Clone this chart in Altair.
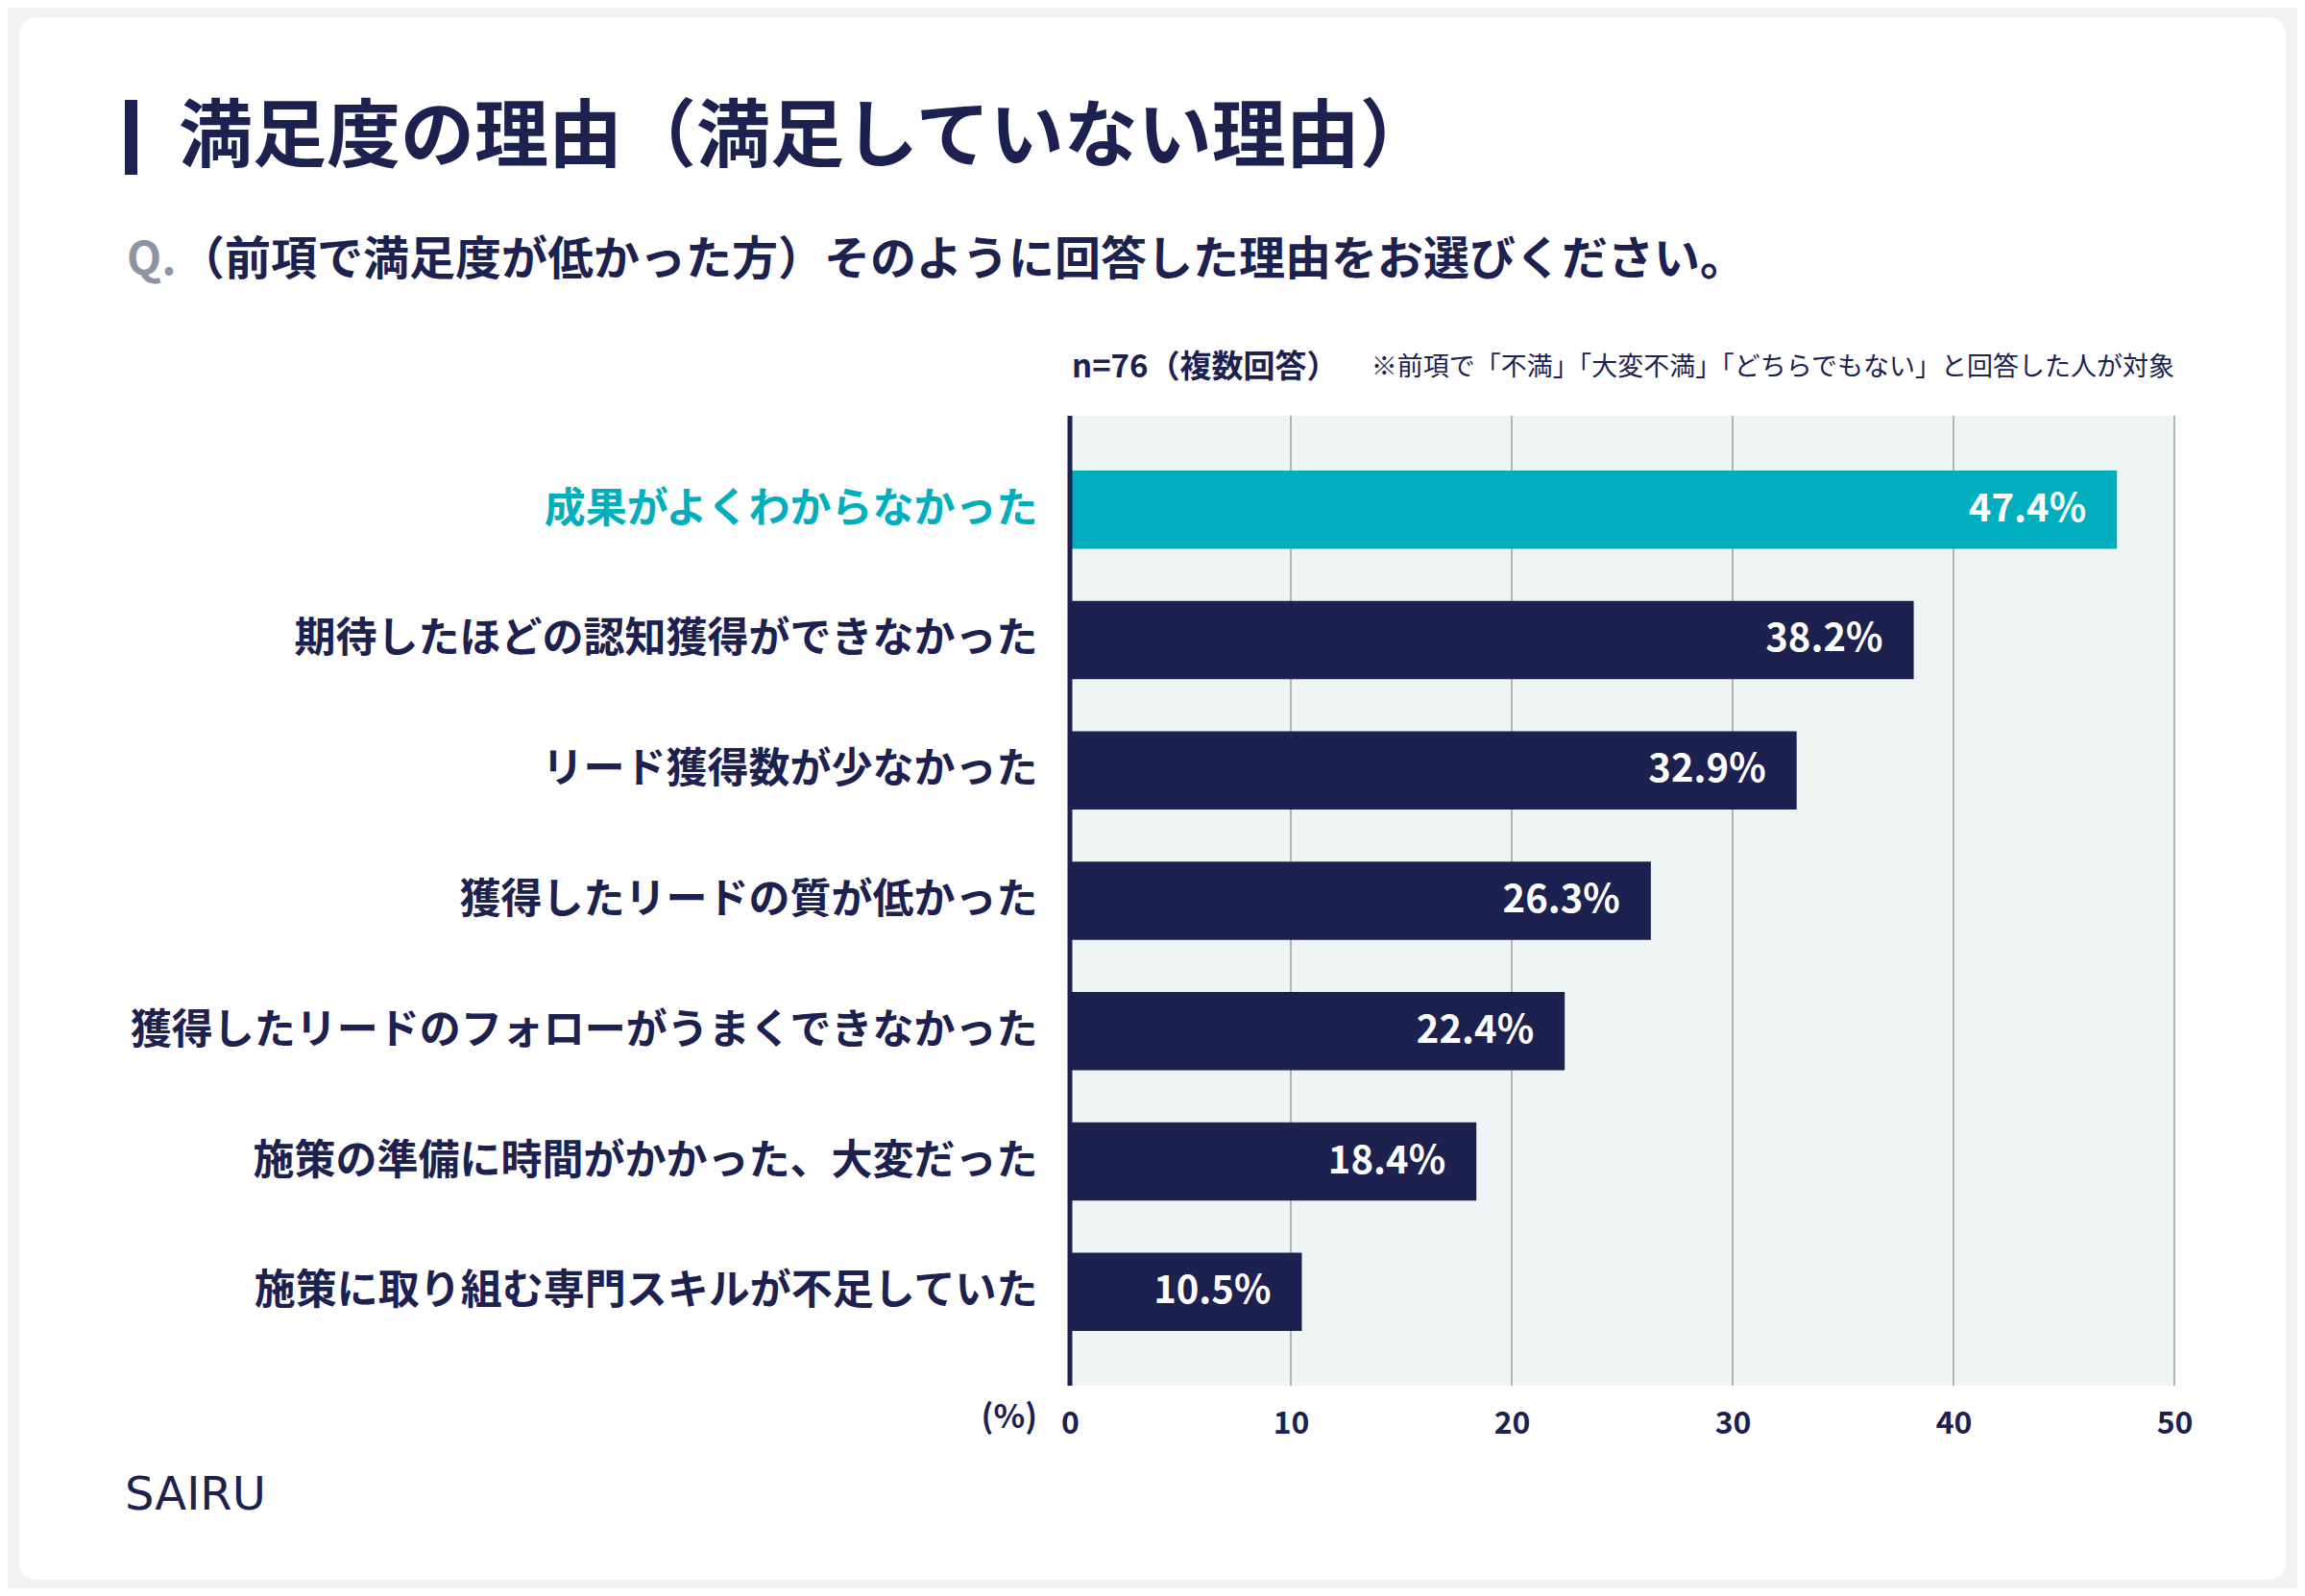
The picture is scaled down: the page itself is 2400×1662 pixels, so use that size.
import altair as alt
import pandas as pd

# ---- data ----
categories = [
    "成果がよくわからなかった",
    "期待したほどの認知獲得ができなかった",
    "リード獲得数が少なかった",
    "獲得したリードの質が低かった",
    "獲得したリードのフォローがうまくできなかった",
    "施策の準備に時間がかかった、大変だった",
    "施策に取り組む専門スキルが不足していた",
]
values = [47.4, 38.2, 32.9, 26.3, 22.4, 18.4, 10.5]
tick_values = [0, 10, 20, 30, 40, 50]
grid_values = [10, 20, 30, 40, 50]

title_text = "満足度の理由（満足していない理由）"
q_text = "Q."
subtitle_text = "（前項で満足度が低かった方）そのように回答した理由をお選びください。"
n_text = "n=76（複数回答）"
note_text = "※前項で「不満」「大変不満」「どちらでもない」と回答した人が対象"
unit_text = "(%)"
logo_text = "SAIRU"

NAVY = "#1c2150"
TEAL = "#00aebd"
GRAY_Q = "#8e93a6"
PLOT_BG = "#eff5f5"
GRID = "#b3b3b3"
FONT = "Noto Sans CJK JP"

W, H = 1150, 1010

df = pd.DataFrame({
    "cat": categories,
    "value": values,
    "label": [f"{v:.1f}%" for v in values],
})
grid_df = pd.DataFrame({"value": grid_values})
zero_df = pd.DataFrame({"value": [0]})
one = alt.Data(values=[{}])

xscale = alt.Scale(domain=[0, 50], nice=False, zero=True)
xaxis = alt.Axis(
    values=tick_values, grid=False, domain=False, ticks=False, title=None,
    labelFont=FONT, labelFontSize=32, labelFontWeight="bold", labelColor=NAVY,
    labelPadding=24, labelFlush=False, zindex=2,
)
yscale = alt.Scale(domain=categories, paddingInner=0.4, paddingOuter=0.42)
yaxis = alt.Axis(
    title=None, domain=False, ticks=False, labelFont=FONT, labelFontSize=43,
    labelFontWeight="bold", labelPadding=34, labelLimit=2000, zindex=2,
    labelColor={"condition": {"test": f"datum.value == '{categories[0]}'", "value": TEAL}, "value": NAVY},
)

X = alt.X("value:Q", scale=xscale, axis=xaxis)
Y = alt.Y("cat:N", scale=yscale, axis=yaxis, sort=categories)

card = alt.Chart(one).mark_rect(fill="white", cornerRadius=18).encode(
    x=alt.value(20 - 1114), x2=alt.value(2380 - 1114),
    y=alt.value(18 - 433), y2=alt.value(1645 - 433),
)
plot_bg = alt.Chart(one).mark_rect(fill=PLOT_BG).encode(
    x=alt.value(0), x2=alt.value(W), y=alt.value(0), y2=alt.value(H),
)
grid = alt.Chart(grid_df).mark_rule(color=GRID, strokeWidth=2).encode(
    x=X, y=alt.value(0), y2=alt.value(H),
)
bars = alt.Chart(df).mark_bar().encode(
    x=X,
    y=Y,
    color=alt.condition(alt.datum.cat == categories[0], alt.value(TEAL), alt.value(NAVY)),
)
vlabels = alt.Chart(df).mark_text(
    align="right", baseline="middle", dx=-32, color="white",
    font=FONT, fontSize=40, fontWeight="bold",
).encode(
    x=X, y=Y, text="label:N",
)
zero_line = alt.Chart(zero_df).mark_rule(color=NAVY, strokeWidth=5).encode(
    x=X, y=alt.value(0), y2=alt.value(H),
)

title_bar = alt.Chart(one).mark_rect(fill=NAVY).encode(
    x=alt.value(130 - 1114), x2=alt.value(143 - 1114),
    y=alt.value(104 - 433), y2=alt.value(182 - 433),
)


def txt(text, x, y, size, color=NAVY, weight="bold", align="left", font=FONT):
    return alt.Chart(one).mark_text(
        text=text, align=align, baseline="middle", font=font, fontSize=size,
        fontWeight=weight, color=color,
    ).encode(x=alt.value(x - 1114), y=alt.value(y - 433))


title = txt(title_text, 186, 145, 77)
q = txt(q_text, 132, 272, 47, color=GRAY_Q)
sub = txt(subtitle_text, 186, 272, 48)
ntxt = txt(n_text, 1116, 383, 33)
note = txt(note_text, 2264, 383, 27, weight="normal", align="right")
unit = txt(unit_text, 1080, 1477, 34, align="right")
logo = txt(logo_text, 130, 1558, 48, weight="normal", font="DejaVu Sans")

chart = alt.layer(
    card, plot_bg, grid, bars, vlabels, zero_line,
    title_bar, title, q, sub, ntxt, note, unit, logo,
).properties(
    width=W, height=H,
    padding={"left": 1106, "top": 425, "right": 128, "bottom": 211},
    autosize=alt.AutoSizeParams(type="none"),
    background="#f2f2f2",
).configure_view(stroke=None)

chart.save("out.html", embed_options={"renderer": "svg", "actions": False})
